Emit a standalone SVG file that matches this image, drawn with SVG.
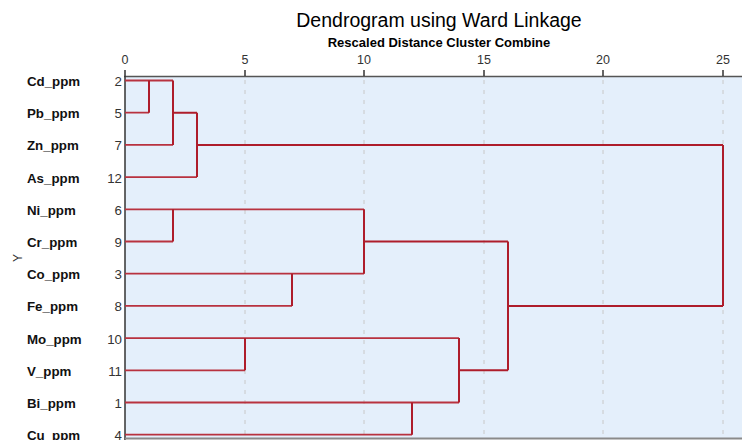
<svg xmlns="http://www.w3.org/2000/svg" width="742" height="440" viewBox="0 0 742 440">
<style>
.title{font-family:"Liberation Sans",Arial,sans-serif;font-size:19.5px;fill:#000;text-anchor:middle}
.sub{font-family:"Liberation Sans",Arial,sans-serif;font-size:13px;font-weight:bold;fill:#000;text-anchor:middle}
.tick{font-family:"Liberation Sans",Arial,sans-serif;font-size:12.5px;fill:#333;text-anchor:middle}
.lab{font-family:"Liberation Sans",Arial,sans-serif;font-size:13.3px;font-weight:bold;fill:#111}
.num{font-family:"Liberation Sans",Arial,sans-serif;font-size:13.3px;fill:#333;text-anchor:end}
.ylab{font-family:"Liberation Sans",Arial,sans-serif;font-size:12px;fill:#333;text-anchor:middle}
.grid{stroke:#c8c8c8;stroke-width:1;stroke-dasharray:4 6;fill:none}
.link{stroke:#ae1d2b;stroke-width:2;fill:none}
.leaf{stroke:#b8323f;stroke-width:1.8;fill:none}
</style>
<rect width="742" height="440" fill="#ffffff"/>
<rect x="125" y="76.5" width="617" height="362" fill="#e4effb"/>
<g id="grid">
<line class="grid" x1="245" y1="80" x2="245" y2="438"/>
<line class="grid" x1="364" y1="80" x2="364" y2="438"/>
<line class="grid" x1="484" y1="80" x2="484" y2="438"/>
<line class="grid" x1="603" y1="80" x2="603" y2="438"/>
<line class="grid" x1="723" y1="80" x2="723" y2="438"/>
</g>
<text class="title" x="439" y="27">Dendrogram using Ward Linkage</text>
<text class="sub" x="439" y="47">Rescaled Distance Cluster Combine</text>
<g id="axis">
<line x1="124" y1="76.5" x2="742" y2="76.5" stroke="#555" stroke-width="1.5"/>
<line x1="125" y1="70" x2="125" y2="440" stroke="#333" stroke-width="1.5"/>
<line x1="125" y1="438.5" x2="742" y2="438.5" stroke="#8a8a8a" stroke-width="2"/>
<g stroke="#333" stroke-width="1.5">
<line x1="245" y1="70" x2="245" y2="76"/>
<line x1="364" y1="70" x2="364" y2="76"/>
<line x1="484" y1="70" x2="484" y2="76"/>
<line x1="603" y1="70" x2="603" y2="76"/>
<line x1="723" y1="70" x2="723" y2="76"/>
</g>
<text class="tick" x="125" y="64">0</text>
<text class="tick" x="245" y="64">5</text>
<text class="tick" x="364" y="64">10</text>
<text class="tick" x="484" y="64">15</text>
<text class="tick" x="603" y="64">20</text>
<text class="tick" x="723" y="64">25</text>
</g>
<text class="ylab" transform="translate(22,258) rotate(-90)">Y</text>
<g id="n-cd"><text class="lab" x="27" y="86">Cd_ppm</text><text class="num" x="122" y="86">2</text></g>
<g id="n-pb"><text class="lab" x="27" y="118">Pb_ppm</text><text class="num" x="122" y="118">5</text></g>
<g id="n-zn"><text class="lab" x="27" y="150">Zn_ppm</text><text class="num" x="122" y="150">7</text></g>
<g id="n-as"><text class="lab" x="27" y="182.5">As_ppm</text><text class="num" x="122" y="182.5">12</text></g>
<g id="n-ni"><text class="lab" x="27" y="215">Ni_ppm</text><text class="num" x="122" y="215">6</text></g>
<g id="n-cr"><text class="lab" x="27" y="247">Cr_ppm</text><text class="num" x="122" y="247">9</text></g>
<g id="n-co"><text class="lab" x="27" y="279">Co_ppm</text><text class="num" x="122" y="279">3</text></g>
<g id="n-fe"><text class="lab" x="27" y="311">Fe_ppm</text><text class="num" x="122" y="311">8</text></g>
<g id="n-mo"><text class="lab" x="27" y="343.5">Mo_ppm</text><text class="num" x="122" y="343.5">10</text></g>
<g id="n-v"><text class="lab" x="27" y="376">V_ppm</text><text class="num" x="122" y="376">11</text></g>
<g id="n-bi"><text class="lab" x="27" y="408">Bi_ppm</text><text class="num" x="122" y="408">1</text></g>
<g id="n-cu"><text class="lab" x="27" y="440">Cu_ppm</text><text class="num" x="122" y="440">4</text></g>
<g id="connectors">
<path class="leaf" d="M125 80.5H173 M125 112.7H149 M125 144.9H173 M125 177.1H197"/>
<path class="link" d="M149 80.5V112.7 M173 80.5V144.9 M173 112.7H197 M197 112.7V177.1 M197 144.9H723 M723 144.9V305.9 M508 305.9H723"/>
<path class="leaf" d="M125 209.3H364 M125 241.5H173 M125 273.7H364 M125 305.9H292"/>
<path class="link" d="M173 209.3V241.5 M364 209.3V273.7 M292 273.7V305.9 M364 241.5H508 M508 241.5V370.3"/>
<path class="leaf" d="M125 338.1H459 M125 370.3H245 M125 402.5H459 M125 434.7H412"/>
<path class="link" d="M245 338.1V370.3 M412 402.5V434.7 M459 338.1V402.5 M459 370.3H508"/>
</g>
</svg>
